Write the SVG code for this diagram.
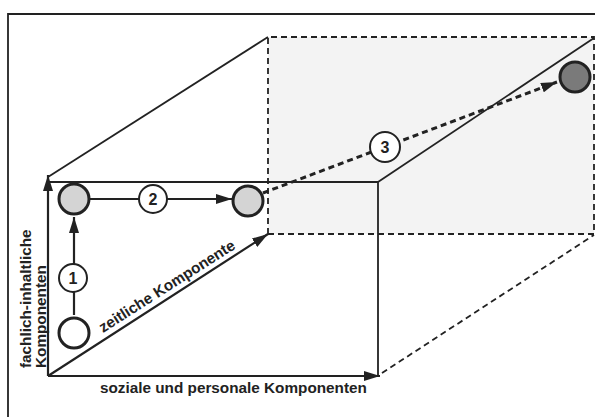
<svg xmlns="http://www.w3.org/2000/svg" width="595" height="417" viewBox="0 0 595 417">
<defs>
<style>
.ln{stroke:#222;stroke-width:1.8;fill:none}
.ds{stroke:#222;stroke-width:1.8;fill:none;stroke-dasharray:6 4}
.ar{stroke:#222;stroke-width:2.2;fill:none}
.node{stroke:#222;stroke-width:3}
.lab{fill:#fff;stroke:#222;stroke-width:2}
.t{font-family:"Liberation Sans",Arial,sans-serif;font-weight:bold;font-size:15.3px;fill:#222}
.n{font-family:"Liberation Sans",Arial,sans-serif;font-weight:bold;font-size:16px;fill:#222;text-anchor:middle}
</style>
<marker id="ah" viewBox="0 0 16 10" refX="16" refY="5" markerWidth="16" markerHeight="10" markerUnits="userSpaceOnUse" orient="auto">
<path d="M0,0 L16,5 L0,10 Z" fill="#222"/>
</marker>
</defs>
<rect width="595" height="417" fill="#fff"/>
<g id="frame">
<path class="ln" d="M8,417 V14 H595"/>
</g>
<g id="cube">
<rect x="268" y="37" width="326" height="197" fill="#f3f3f3"/>
<path class="ds" d="M268,234 V37 H594 V234 H268"/>
<path class="ds" d="M382,373 L594,235"/>
<path class="ln" d="M48,177 L268,37"/>
<path class="ln" d="M378,182 L594,38"/>
<path class="ln" d="M48,182 H378 V376"/>
</g>
<g id="connectors">
<line class="ar" x1="48" y1="376" x2="48" y2="175" marker-end="url(#ah)"/>
<line class="ar" x1="48" y1="376" x2="380" y2="376" marker-end="url(#ah)"/>
<line class="ar" x1="48" y1="376" x2="268" y2="234" marker-end="url(#ah)"/>
<line class="ar" x1="74" y1="315" x2="74" y2="217" marker-end="url(#ah)"/>
<line class="ar" x1="90" y1="199" x2="232" y2="199" marker-end="url(#ah)"/>
<line x1="263" y1="193" x2="557" y2="82" stroke="#222" stroke-width="3" stroke-dasharray="6 4" marker-end="url(#ah)"/>
</g>
<g id="n-start"><circle class="node" cx="74" cy="333" r="15" fill="#fff"/></g>
<g id="n-a"><circle class="node" cx="74" cy="199" r="15" fill="#d4d4d4"/></g>
<g id="n-b"><circle class="node" cx="248" cy="201" r="15" fill="#d4d4d4"/></g>
<g id="n-c"><circle class="node" cx="575" cy="77" r="15" fill="#7a7a7a"/></g>
<g id="l1"><circle class="lab" cx="73" cy="278" r="14"/><text class="n" x="73" y="284">1</text></g>
<g id="l2"><circle class="lab" cx="153" cy="199" r="14"/><text class="n" x="153" y="205">2</text></g>
<g id="l3"><circle class="lab" cx="385" cy="147" r="15"/><text class="n" x="385" y="153">3</text></g>
<g id="labels">
<text class="t" transform="translate(103,333) rotate(-32.5)">zeitliche Komponente</text>
<text class="t" x="100" y="393">soziale und personale Komponenten</text>
<text class="t" transform="translate(31,368) rotate(-90)">fachlich-inhaltliche</text>
<text class="t" transform="translate(46,368) rotate(-90)">Komponenten</text>
</g>
</svg>
